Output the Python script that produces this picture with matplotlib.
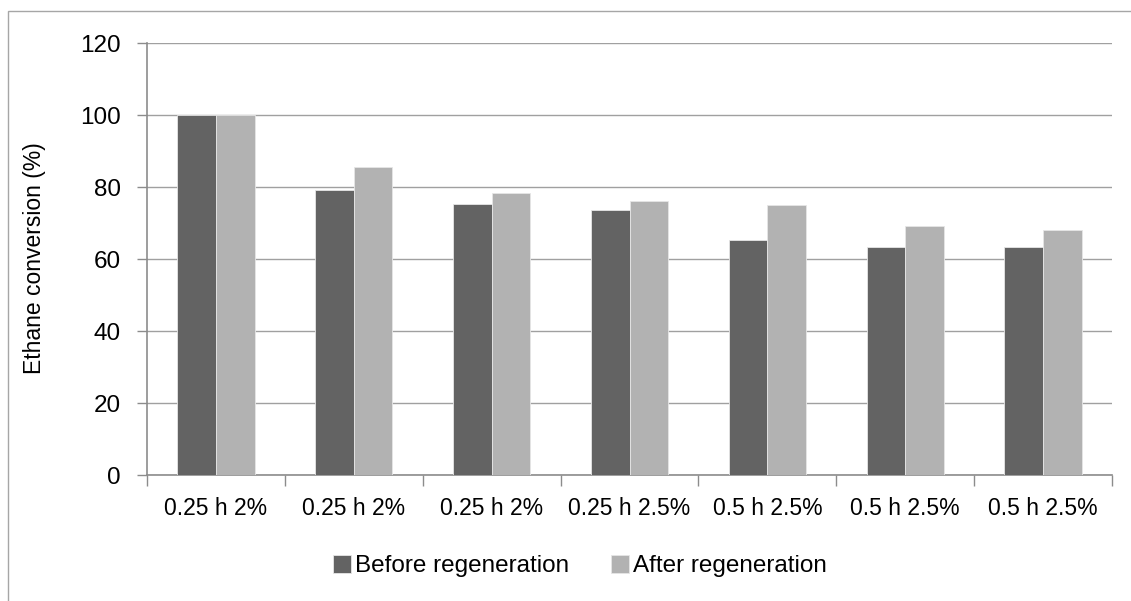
import matplotlib
matplotlib.use("Agg")
import matplotlib.pyplot as plt
from matplotlib.patches import Rectangle
import numpy as np

plt.rcParams['font.family'] = ['Liberation Sans', 'DejaVu Sans']

categories = ["0.25 h 2%", "0.25 h 2%", "0.25 h 2%", "0.25 h 2.5%",
              "0.5 h 2.5%", "0.5 h 2.5%", "0.5 h 2.5%"]
before_regen = [100.0, 79.3, 75.3, 73.6, 65.3, 63.2, 63.3]
after_regen = [100.0, 85.5, 78.3, 76.0, 75.0, 69.1, 68.0]
series_names = ["Before regeneration", "After regeneration"]
y_ticks = [0, 20, 40, 60, 80, 100, 120]

W, H = 1131, 601
FS = 17.5
fig = plt.figure(figsize=(W / 100, H / 100), dpi=100)
fig.patch.set_facecolor("white")

# outer frame (extends past the right and bottom edges)
fig.patches.append(Rectangle((8 / W, -0.1), 1.2, (H - 11) / H + 0.1,
                             transform=fig.transFigure, fill=False,
                             edgecolor="#a6a6a6", linewidth=1.0))

ax = fig.add_axes([147 / W, (H - 475) / H, (1112 - 147) / W, (475 - 43) / H])

x = np.arange(len(categories))
bw = 0.28
ax.bar(x - bw / 2, before_regen, bw, color="#636363", edgecolor="#e6e6e6",
       linewidth=0.6, label=series_names[0], zorder=3)
ax.bar(x + bw / 2, after_regen, bw, color="#b2b2b2", edgecolor="#e6e6e6",
       linewidth=0.6, label=series_names[1], zorder=3)

ax.set_xlim(-0.5, len(categories) - 0.5)
ax.set_ylim(0, 120)
ax.set_yticks(y_ticks)
ax.yaxis.grid(True, color="#a0a0a0", linewidth=1.0, zorder=0)
ax.set_axisbelow(True)

for side in ("top", "right"):
    ax.spines[side].set_visible(False)
for side in ("left", "bottom"):
    ax.spines[side].set_color("#8c8c8c")
    ax.spines[side].set_linewidth(1.2)

ax.set_xticks(x)
ax.set_xticklabels(categories)
ax.tick_params(axis="x", length=0, pad=16, labelsize=16.5, colors="black")
ax.set_xticks(np.arange(-0.5, len(categories), 1.0), minor=True)
ax.tick_params(axis="x", which="minor", length=8, width=1, color="#8c8c8c")
ax.tick_params(axis="y", length=7, width=1, color="#8c8c8c", pad=12,
               labelsize=FS, labelcolor="black")

fig.text(35 / W, (H - 258) / H, "Ethane conversion (%)", rotation=90,
         ha="center", va="center", fontsize=16.5)

fig.legend(loc="center", bbox_to_anchor=(580 / W, (H - 566) / H), ncol=2,
           frameon=False, fontsize=FS, handlelength=0.75, handleheight=0.75,
           handletextpad=0.18, columnspacing=1.7, borderpad=0.2)

fig.savefig("out.png", dpi=100, facecolor="white")
